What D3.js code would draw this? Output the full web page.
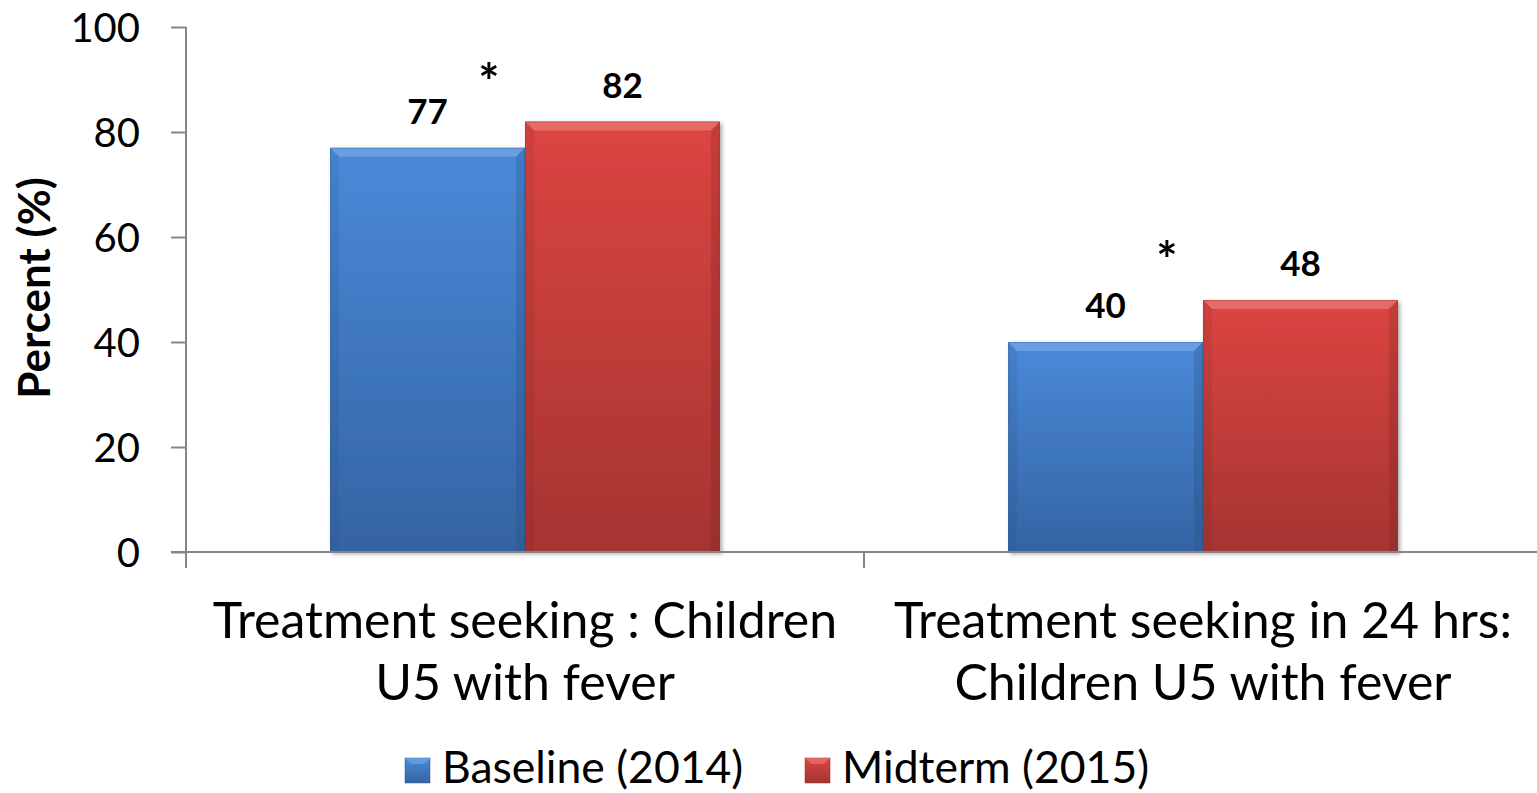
<!DOCTYPE html>
<html>
<head>
<meta charset="utf-8">
<script src="https://cdn.jsdelivr.net/npm/d3@7"></script>
<style>
  html, body { margin: 0; padding: 0; background: #fff; }
  svg { display: block; }
  text { font-family: Lato, "Open Sans", sans-serif; fill: #000; }
</style>
</head>
<body>
<svg id="chart" width="1537" height="793"></svg>
<script>
// Chart data
const categories = [
  ["Treatment seeking : Children", "U5 with fever"],
  ["Treatment seeking in 24 hrs:", "Children U5 with fever"]
];
const seriesNames = ["Baseline (2014)", "Midterm (2015)"];
const baselineValues = [77, 40];
const midtermValues = [82, 48];
const significant = [true, true];
const yTicks = [0, 20, 40, 60, 80, 100];

const series = [
  { name: seriesNames[0], values: baselineValues, top: "#4a8ad9", bottom: "#3463a3", edge: "#2c5890", light: "#7fb0ec" },
  { name: seriesNames[1], values: midtermValues, top: "#dc4541", bottom: "#a53431", edge: "#8e2b29", light: "#f08a86" }
];

const svg = d3.select("#chart");
const W = 1537, H = 793;
const plot = { left: 186, right: 1542, top: 27, bottom: 552 };

const x0 = d3.scaleBand()
  .domain(d3.range(categories.length))
  .range([plot.left, plot.right])
  .paddingInner(0.425)
  .paddingOuter(0.2125);
const x1 = d3.scaleBand()
  .domain(d3.range(series.length))
  .range([0, x0.bandwidth()]);
const y = d3.scaleLinear().domain([0, 100]).range([plot.bottom, plot.top]);

// Gradients for the bevelled bars
const defs = svg.append("defs");
series.forEach((s, i) => {
  const g = defs.append("linearGradient").attr("id", "grad" + i)
    .attr("x1", 0).attr("y1", 0).attr("x2", 0).attr("y2", 1);
  g.append("stop").attr("offset", "0%").attr("stop-color", s.top);
  g.append("stop").attr("offset", "100%").attr("stop-color", s.bottom);
  const sg = defs.append("linearGradient").attr("id", "side" + i)
    .attr("x1", 0).attr("y1", 0).attr("x2", 0).attr("y2", 1);
  sg.append("stop").attr("offset", "0%").attr("stop-color", s.edge).attr("stop-opacity", 0.35);
  sg.append("stop").attr("offset", "100%").attr("stop-color", s.edge).attr("stop-opacity", 0.6);
});
const shadow = defs.append("filter").attr("id", "shadow")
  .attr("x", "-5%").attr("y", "-5%").attr("width", "115%").attr("height", "115%");
shadow.append("feGaussianBlur").attr("in", "SourceAlpha").attr("stdDeviation", 2);
shadow.append("feOffset").attr("dx", 2).attr("dy", 2).attr("result", "b");
shadow.append("feComponentTransfer").append("feFuncA").attr("type", "linear").attr("slope", 0.35);
const merge = shadow.append("feMerge");
merge.append("feMergeNode");
merge.append("feMergeNode").attr("in", "SourceGraphic");

// Bars
const bars = [];
categories.forEach((c, ci) => {
  series.forEach((s, si) => {
    bars.push({ ci, si, v: s.values[ci] });
  });
});

const bev = 9;
const barG = svg.append("g");
bars.forEach(b => {
  const bx = x0(b.ci) + x1(b.si);
  const bw = x1.bandwidth();
  const by = y(b.v);
  const bh = y(0) - by;
  const s = series[b.si];
  const g = barG.append("g").attr("filter", "url(#shadow)");
  g.append("rect").attr("x", bx).attr("y", by).attr("width", bw).attr("height", bh)
    .attr("fill", `url(#grad${b.si})`);
  // top bevel
  g.append("path")
    .attr("d", `M${bx},${by} L${bx + bw},${by} L${bx + bw - bev},${by + bev} L${bx + bev},${by + bev} Z`)
    .attr("fill", s.light).attr("opacity", 0.55);
  // left and right bevels
  g.append("path")
    .attr("d", `M${bx},${by} L${bx + bev},${by + bev} L${bx + bev},${by + bh} L${bx},${by + bh} Z`)
    .attr("fill", `url(#side${b.si})`).attr("opacity", 0.5);
  g.append("path")
    .attr("d", `M${bx + bw},${by} L${bx + bw - bev},${by + bev} L${bx + bw - bev},${by + bh} L${bx + bw},${by + bh} Z`)
    .attr("fill", `url(#side${b.si})`).attr("opacity", 0.9);
  g.append("rect").attr("x", bx + 0.5).attr("y", by + 0.5).attr("width", bw - 1).attr("height", bh - 1)
    .attr("fill", "none").attr("stroke", s.edge).attr("stroke-opacity", 0.35);
});

// Value labels
svg.append("g").selectAll("text").data(bars).join("text")
  .attr("x", d => x0(d.ci) + x1(d.si) + x1.bandwidth() / 2)
  .attr("y", d => y(d.v) - 24)
  .attr("text-anchor", "middle")
  .attr("font-size", 35).attr("font-weight", "bold")
  .text(d => d.v);

// Significance markers
svg.append("g").selectAll("text").data(categories.map((c, i) => i).filter(i => significant[i])).join("text")
  .attr("x", i => x0(i) + x0.bandwidth() / 2 - 36)
  .attr("y", i => y(Math.max(baselineValues[i], midtermValues[i])) - 22)
  .attr("text-anchor", "middle")
  .attr("font-size", 50).attr("font-weight", "bold")
  .text("*");

// Axes
const axisColor = "#868686";
const yAxis = svg.append("g").attr("transform", `translate(${plot.left},0)`)
  .call(d3.axisLeft(y).tickValues(yTicks).tickSize(15).tickPadding(31));
yAxis.select(".domain").attr("stroke", axisColor).attr("stroke-width", 2)
  .attr("d", `M0,${plot.top}V${plot.bottom}`);
yAxis.selectAll(".tick line").attr("stroke", axisColor).attr("stroke-width", 2);
yAxis.selectAll(".tick text").attr("font-size", 40).attr("font-family", "Lato, sans-serif").attr("dy", "0.36em");

const xAxisLine = svg.append("g");
xAxisLine.append("line")
  .attr("x1", plot.left - 15).attr("x2", W).attr("y1", y(0)).attr("y2", y(0))
  .attr("stroke", axisColor).attr("stroke-width", 2);
const boundaries = [plot.left].concat(d3.range(1, categories.length).map(i => x0(i) - x0.step() * x0.paddingInner() / 2));
xAxisLine.selectAll(".ctick").data(boundaries).join("line")
  .attr("x1", d => d).attr("x2", d => d)
  .attr("y1", y(0)).attr("y2", y(0) + 16)
  .attr("stroke", axisColor).attr("stroke-width", 2);

// Category labels
const catG = svg.append("g");
categories.forEach((lines, i) => {
  const t = catG.append("text")
    .attr("x", x0(i) + x0.bandwidth() / 2)
    .attr("y", 638)
    .attr("text-anchor", "middle")
    .attr("font-size", 50);
  lines.forEach((ln, k) => {
    t.append("tspan").attr("x", x0(i) + x0.bandwidth() / 2).attr("dy", k === 0 ? 0 : 62).text(ln);
  });
});

// Y axis title
svg.append("text")
  .attr("transform", `translate(50,288) rotate(-90)`)
  .attr("text-anchor", "middle")
  .attr("font-size", 44).attr("font-weight", "bold")
  .text("Percent (%)");

// Legend
const legendX = [405, 805];
const legend = svg.append("g");
series.forEach((s, i) => {
  const lg = legend.append("g").attr("transform", `translate(${legendX[i]},758)`);
  lg.append("rect").attr("width", 25).attr("height", 25).attr("fill", `url(#grad${i})`)
    .attr("stroke", s.edge).attr("stroke-opacity", 0.5);
  lg.append("path").attr("d", "M0,0 L25,0 L19,6 L6,6 Z").attr("fill", s.light).attr("opacity", 0.5);
  lg.append("text").attr("x", 37).attr("y", 25).attr("font-size", 44.5).text(s.name);
});
</script>
</body>
</html>
